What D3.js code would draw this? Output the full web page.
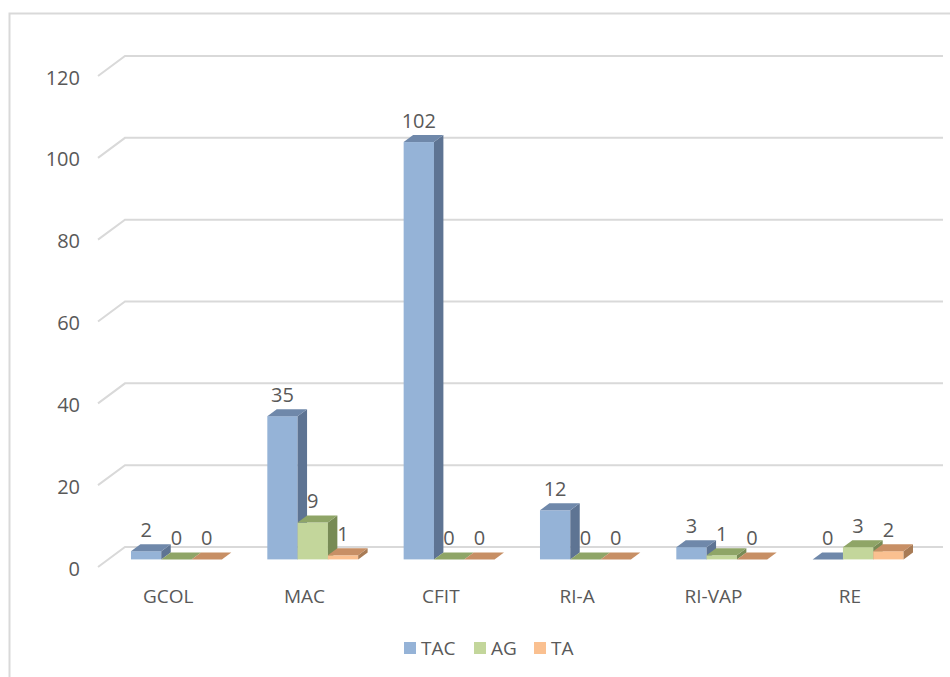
<!DOCTYPE html>
<html>
<head>
<meta charset="utf-8">
<script src="https://cdn.jsdelivr.net/npm/d3@7"></script>
<style>
  body { margin: 0; background: #fff; }
  svg text { font-family: "Open Sans", "Liberation Sans", sans-serif; fill: #595959; }
</style>
</head>
<body>
<svg id="chart" width="950" height="677"></svg>
<script>
// data
const categories = ["GCOL", "MAC", "CFIT", "RI-A", "RI-VAP", "RE"];
const seriesNames = ["TAC", "AG", "TA"];
const tacValues = [2, 35, 102, 12, 3, 0];
const agValues = [0, 9, 0, 0, 1, 3];
const taValues = [0, 1, 0, 0, 0, 2];
const yTicks = [0, 20, 40, 60, 80, 100, 120];

// face colours per series: front / top / side
const colors = {
  TAC: { front: "#95b3d7", top: "#6f88aa", side: "#5e7493" },
  AG:  { front: "#c3d69b", top: "#8fa567", side: "#788b55" },
  TA:  { front: "#fac090", top: "#c78f65", side: "#a87b55" }
};

const svg = d3.select("#chart");

// outer chart border
svg.append("rect")
  .attr("x", 9.5).attr("y", 13.5)
  .attr("width", 1000).attr("height", 800)
  .attr("fill", "none").attr("stroke", "#d9d9d9").attr("stroke-width", 2);

// oblique depth: full floor depth offset
const depthX = 27, depthY = -20;
const x = d3.scaleBand().domain(categories).range([98, 916]);
const y = d3.scaleLinear().domain([0, 120]).range([567, 76]);
const inner = d3.scaleBand().domain(seriesNames)
  .range([0, x.bandwidth()]).paddingInner(0).paddingOuter(0.75);

// gridlines (front diagonal + back horizontal)
const grid = svg.append("g");
yTicks.forEach(t => {
  const yf = y(t);
  grid.append("path")
    .attr("d", `M${x.range()[0]},${yf} L${x.range()[0] + depthX},${yf + depthY} L${x.range()[1] + depthX},${yf + depthY}`)
    .attr("fill", "none").attr("stroke", "#d9d9d9").attr("stroke-width", 2);
  grid.append("text")
    .attr("x", 80).attr("y", yf + 1)
    .attr("text-anchor", "end").attr("dominant-baseline", "central")
    .attr("font-size", 20)
    .text(t);
});

// bars sit in the middle of the floor depth
const z0 = 0.38, z1 = 0.73;
const fx = depthX * z0, fy = depthY * z0;
const bx = depthX * (z1 - z0), by = depthY * (z1 - z0);

const rows = [];
categories.forEach((c, i) => {
  [tacValues[i], agValues[i], taValues[i]].forEach((v, j) => {
    rows.push({ cat: c, series: seriesNames[j], value: v });
  });
});

const bars = svg.append("g");
rows.forEach(d => {
  const col = colors[d.series];
  const x0 = x(d.cat) + inner(d.series) + fx;
  const w = inner.bandwidth();
  const yb = y(0) + fy;
  const yt = y(d.value) + fy;
  const g = bars.append("g");
  if (d.value > 0) {
    g.append("rect")
      .attr("x", x0).attr("y", yt).attr("width", w).attr("height", yb - yt)
      .attr("fill", col.front);
    g.append("path")
      .attr("d", `M${x0 + w},${yt} L${x0 + w + bx},${yt + by} L${x0 + w + bx},${yb + by} L${x0 + w},${yb} Z`)
      .attr("fill", col.side);
  }
  g.append("path")
    .attr("d", `M${x0},${yt} L${x0 + w},${yt} L${x0 + w + bx},${yt + by} L${x0 + bx},${yt + by} Z`)
    .attr("fill", col.top);

  g.append("text")
    .attr("x", x0 + w / 2).attr("y", yt + by - 15)
    .attr("text-anchor", "middle").attr("dominant-baseline", "central")
    .attr("font-size", 20)
    .text(d.value);
});

// category labels
categories.forEach(c => {
  svg.append("text")
    .attr("x", x(c) + x.bandwidth() / 2 + 2).attr("y", 596)
    .attr("text-anchor", "middle").attr("dominant-baseline", "central")
    .attr("font-size", 19)
    .text(c);
});

// legend
const legendX = [404, 474, 534];
const legend = svg.append("g");
seriesNames.forEach((s, i) => {
  legend.append("rect")
    .attr("x", legendX[i]).attr("y", 642).attr("width", 12).attr("height", 12)
    .attr("fill", colors[s].front);
  legend.append("text")
    .attr("x", legendX[i] + 17).attr("y", 648)
    .attr("dominant-baseline", "central")
    .attr("font-size", 19)
    .text(s);
});
</script>
</body>
</html>
